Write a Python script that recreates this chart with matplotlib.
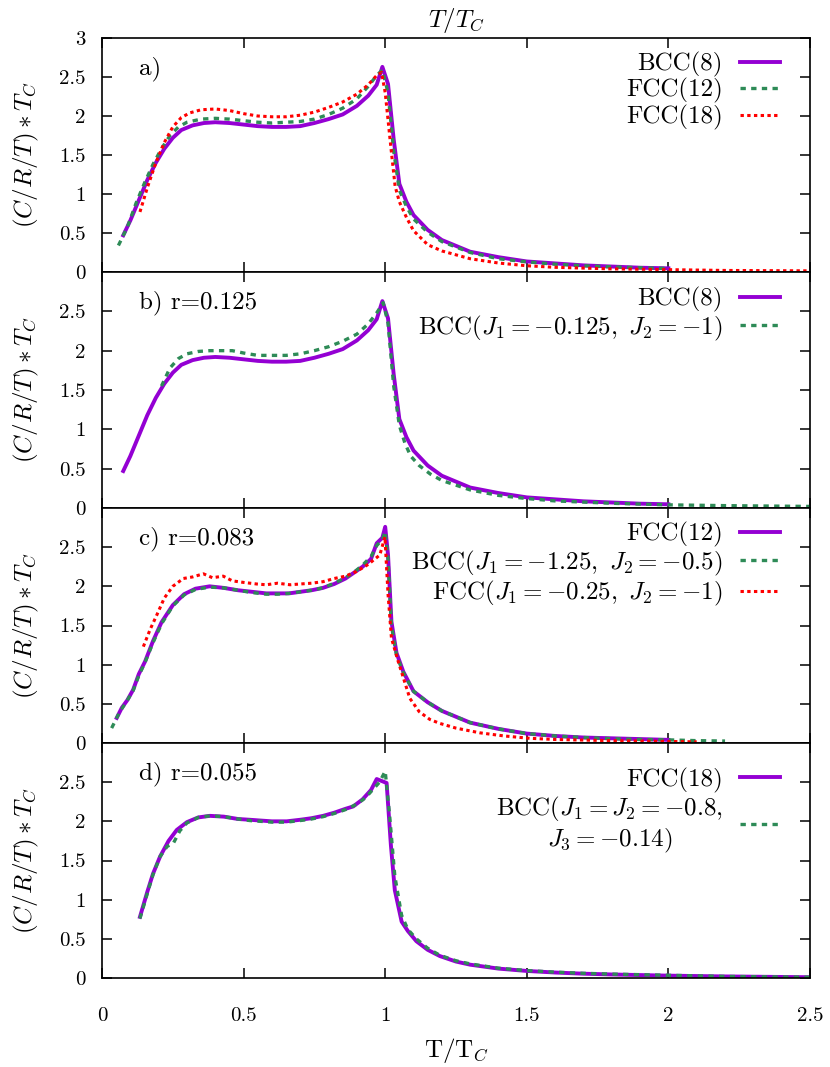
import matplotlib
matplotlib.use("Agg")
import matplotlib.pyplot as plt
from matplotlib.ticker import FixedLocator, FuncFormatter

plt.rcParams['font.family'] = 'serif'
plt.rcParams['font.serif'] = ['cmr10', 'DejaVu Serif']
plt.rcParams['mathtext.fontset'] = 'cm'
plt.rcParams['axes.unicode_minus'] = False
plt.rcParams['axes.formatter.use_mathtext'] = True

# ---------------- data ----------------
# panel a / b : BCC(8)
bcc8_x = [0.075, 0.10, 0.13, 0.16, 0.19, 0.22, 0.25, 0.28, 0.32, 0.36, 0.40, 0.45, 0.50, 0.55, 0.60, 0.65,
          0.70, 0.75, 0.80, 0.85, 0.90, 0.94, 0.97, 0.99, 1.01, 1.03, 1.05, 1.075, 1.10, 1.15, 1.20, 1.30,
          1.40, 1.50, 1.60, 1.70, 1.80, 1.90, 2.00]
bcc8_y = [0.47, 0.66, 0.92, 1.18, 1.40, 1.58, 1.72, 1.82, 1.88, 1.91, 1.92, 1.91, 1.89, 1.87, 1.86, 1.86,
          1.87, 1.91, 1.96, 2.02, 2.13, 2.26, 2.40, 2.63, 2.41, 1.70, 1.13, 0.90, 0.73, 0.54, 0.41, 0.26,
          0.19, 0.135, 0.11, 0.085, 0.07, 0.055, 0.047]

# panel a : FCC(12)
fcc12_x = [0.058, 0.09, 0.12, 0.15, 0.18, 0.21, 0.24, 0.27, 0.30, 0.35, 0.40, 0.45, 0.50, 0.55, 0.60, 0.65,
           0.70, 0.75, 0.80, 0.85, 0.90, 0.94, 0.97, 0.99, 1.01, 1.03, 1.05, 1.075, 1.10, 1.15, 1.20, 1.30,
           1.40, 1.50, 1.60, 1.70, 1.80, 1.90, 2.00]
fcc12_y = [0.34, 0.58, 0.88, 1.14, 1.38, 1.58, 1.75, 1.86, 1.92, 1.96, 1.97, 1.96, 1.94, 1.92, 1.91, 1.92,
           1.93, 1.96, 2.02, 2.10, 2.22, 2.38, 2.52, 2.59, 2.30, 1.55, 1.05, 0.84, 0.68, 0.51, 0.39, 0.25,
           0.17, 0.13, 0.10, 0.08, 0.065, 0.055, 0.045]

# panel a : FCC(18)
fcc18a_x = [0.134, 0.16, 0.19, 0.22, 0.25, 0.28, 0.31, 0.35, 0.40, 0.45, 0.50, 0.55, 0.60, 0.65, 0.70,
            0.75, 0.80, 0.85, 0.90, 0.94, 0.97, 0.987, 1.00, 1.02, 1.035, 1.05, 1.075, 1.10, 1.15, 1.20,
            1.30, 1.40, 1.50, 1.60, 1.80, 2.00, 2.20, 2.50]
fcc18a_y = [0.77, 1.08, 1.40, 1.66, 1.86, 1.98, 2.04, 2.08, 2.09, 2.07, 2.03, 2.00, 1.99, 1.99, 2.01,
            2.05, 2.11, 2.18, 2.28, 2.40, 2.52, 2.56, 2.30, 1.60, 1.10, 0.90, 0.70, 0.53, 0.35, 0.27,
            0.17, 0.115, 0.08, 0.06, 0.04, 0.03, 0.02, 0.015]

# panel b : BCC(J1=-0.125, J2=-1)
bccb_x = [0.21, 0.24, 0.27, 0.30, 0.34, 0.38, 0.42, 0.46, 0.50, 0.55, 0.60, 0.65, 0.70, 0.75, 0.80, 0.85,
          0.90, 0.94, 0.97, 0.993, 1.01, 1.03, 1.05, 1.07, 1.09, 1.12, 1.16, 1.20, 1.30, 1.40, 1.50, 1.60,
          1.80, 2.00, 2.20, 2.50]
bccb_y = [1.55, 1.78, 1.90, 1.96, 1.99, 2.00, 2.00, 2.00, 1.97, 1.94, 1.94, 1.94, 1.96, 2.00, 2.05, 2.12,
          2.21, 2.34, 2.48, 2.61, 2.35, 1.55, 1.05, 0.82, 0.66, 0.54, 0.43, 0.35, 0.23, 0.16, 0.12, 0.09,
          0.06, 0.04, 0.03, 0.02]

# panel c : FCC(12)
fcc12c_x = [0.052, 0.07, 0.09, 0.11, 0.13, 0.152, 0.18, 0.21, 0.25, 0.29, 0.33, 0.38, 0.43, 0.48, 0.53,
            0.58, 0.62, 0.66, 0.70, 0.74, 0.78, 0.82, 0.86, 0.90, 0.92, 0.95, 0.97, 0.99, 1.00, 1.01,
            1.022, 1.04, 1.064, 1.10, 1.15, 1.20, 1.30, 1.40, 1.50, 1.60, 1.70, 1.80, 1.90, 2.00]
fcc12c_y = [0.32, 0.45, 0.55, 0.68, 0.88, 1.04, 1.30, 1.54, 1.76, 1.90, 1.97, 2.00, 1.98, 1.95, 1.93,
            1.91, 1.91, 1.91, 1.93, 1.95, 1.98, 2.03, 2.10, 2.20, 2.25, 2.35, 2.55, 2.62, 2.76, 2.40,
            1.55, 1.15, 0.91, 0.66, 0.52, 0.41, 0.26, 0.18, 0.12, 0.09, 0.07, 0.06, 0.05, 0.04]

# panel c : BCC(J1=-1.25, J2=-0.5)
bccc_x = [0.034, 0.06, 0.09, 0.11, 0.13, 0.152, 0.18, 0.21, 0.25, 0.29, 0.33, 0.38, 0.43, 0.48, 0.53,
          0.58, 0.62, 0.66, 0.70, 0.74, 0.78, 0.82, 0.86, 0.90, 0.92, 0.95, 0.97, 0.99, 1.00, 1.01,
          1.022, 1.04, 1.064, 1.10, 1.15, 1.20, 1.30, 1.40, 1.50, 1.60, 1.70, 1.80, 1.90, 2.00, 2.10, 2.20]
bccc_y = [0.19, 0.38, 0.55, 0.67, 0.86, 1.03, 1.28, 1.52, 1.75, 1.89, 1.96, 1.99, 1.98, 1.95, 1.92,
          1.90, 1.90, 1.91, 1.93, 1.95, 1.98, 2.04, 2.11, 2.21, 2.27, 2.38, 2.52, 2.60, 2.70, 2.35,
          1.50, 1.12, 0.90, 0.66, 0.52, 0.41, 0.26, 0.18, 0.12, 0.09, 0.07, 0.055, 0.045, 0.04, 0.03, 0.025]

# panel c : FCC(J1=-0.25, J2=-1)
fccc_x = [0.146, 0.17, 0.193, 0.22, 0.25, 0.287, 0.32, 0.358, 0.39, 0.428, 0.46, 0.50, 0.546, 0.58, 0.62,
          0.664, 0.70, 0.74, 0.781, 0.82, 0.86, 0.899, 0.94, 0.981, 0.999, 1.01, 1.022, 1.046, 1.087, 1.12,
          1.158, 1.193, 1.25, 1.334, 1.42, 1.51, 1.60, 1.80, 2.00, 2.10]
fccc_y = [1.23, 1.45, 1.63, 1.85, 2.00, 2.10, 2.12, 2.16, 2.11, 2.13, 2.07, 2.05, 2.03, 2.02, 2.04,
          2.02, 2.03, 2.04, 2.06, 2.10, 2.13, 2.19, 2.28, 2.40, 2.63, 1.90, 1.34, 1.04, 0.57, 0.40,
          0.30, 0.25, 0.19, 0.13, 0.09, 0.06, 0.045, 0.03, 0.02, 0.015]

# panel d : FCC(18)
fcc18d_x = [0.134, 0.16, 0.18, 0.205, 0.235, 0.264, 0.30, 0.34, 0.381, 0.43, 0.48, 0.522, 0.56, 0.60,
            0.652, 0.70, 0.74, 0.781, 0.82, 0.86, 0.887, 0.92, 0.95, 0.97, 1.005, 1.02, 1.034, 1.058, 1.08,
            1.11, 1.15, 1.193, 1.25, 1.30, 1.40, 1.50, 1.60, 1.70, 1.80, 2.00, 2.20, 2.50]
fcc18d_y = [0.78, 1.10, 1.33, 1.55, 1.75, 1.89, 1.99, 2.05, 2.07, 2.06, 2.03, 2.02, 2.01, 2.00,
            2.00, 2.02, 2.04, 2.07, 2.11, 2.16, 2.19, 2.28, 2.40, 2.54, 2.49, 1.70, 1.12, 0.72, 0.60,
            0.47, 0.36, 0.28, 0.21, 0.17, 0.12, 0.09, 0.07, 0.055, 0.045, 0.03, 0.02, 0.01]

# panel d : BCC(J1=J2=-0.8, J3=-0.14)
bccd_x = [0.134, 0.16, 0.18, 0.205, 0.23, 0.252, 0.275, 0.30, 0.34, 0.381, 0.43, 0.48, 0.522, 0.56,
          0.60, 0.652, 0.70, 0.74, 0.781, 0.82, 0.86, 0.90, 0.93, 0.96, 0.98, 1.00, 1.015, 1.034, 1.058,
          1.08, 1.11, 1.15, 1.193, 1.25, 1.30, 1.40, 1.50, 1.60, 1.70, 1.80, 2.00, 2.20, 2.50]
bccd_y = [0.76, 1.08, 1.32, 1.55, 1.68, 1.72, 1.88, 1.98, 2.05, 2.07, 2.06, 2.03, 2.01, 2.00,
          1.99, 1.99, 2.01, 2.03, 2.06, 2.10, 2.15, 2.22, 2.30, 2.42, 2.50, 2.64, 2.10, 1.30, 0.80,
          0.62, 0.50, 0.38, 0.29, 0.22, 0.18, 0.125, 0.095, 0.075, 0.06, 0.05, 0.035, 0.02, 0.01]

xticks = [0, 0.5, 1, 1.5, 2, 2.5]
xtick_labels = ['0', '0.5', '1', '1.5', '2', '2.5']
yticks_top = [0, 0.5, 1, 1.5, 2, 2.5, 3]
yticks_other = [0, 0.5, 1, 1.5, 2, 2.5]

# ---------------- styles ----------------
PURPLE = '#9400D3'
GREEN = '#2E8B57'
RED = '#FF0000'
solid = dict(color=PURPLE, lw=2.8, ls='-')
dashed = dict(color=GREEN, lw=2.4, ls=(0, (1.6, 1.6)), dash_capstyle='butt')
dotted = dict(color=RED, lw=2.2, ls=(0, (1.1, 1.1)), dash_capstyle='butt')

panels = [
    ('a)', 0.94, [(bcc8_x, bcc8_y, solid, 'BCC(8)'),
                  (fcc12_x, fcc12_y, dashed, 'FCC(12)'),
                  (fcc18a_x, fcc18a_y, dotted, 'FCC(18)')]),
    ('b) r=0.125', 0.935, [(bcc8_x, bcc8_y, solid, 'BCC(8)'),
                           (bccb_x, bccb_y, dashed, r'BCC($J_1 = -0.125,\ J_2 = -1$)')]),
    ('c) r=0.083', 0.94, [(fcc12c_x, fcc12c_y, solid, 'FCC(12)'),
                          (bccc_x, bccc_y, dashed, r'BCC($J_1 = -1.25,\ J_2 = -0.5$)'),
                          (fccc_x, fccc_y, dotted, r'FCC($J_1 = -0.25,\ J_2 = -1$)')]),
    ('d) r=0.055', 0.895, [(fcc18d_x, fcc18d_y, solid, 'FCC(18)'),
                           (bccd_x, bccd_y, dashed, 'BCC($J_1 = J_2 = -0.8$,\n$J_3 = -0.14$)')]),
]

W, H = 830, 1067
fig = plt.figure(figsize=(W / 100, H / 100), dpi=100)
edges = [38, 272, 508, 743, 978]
left_px, right_px = 102, 810

fmt = FuncFormatter(lambda v, p: f'{v:g}')

for i, (label, leg_y, series) in enumerate(panels):
    top, bot = edges[i], edges[i + 1]
    ax = fig.add_axes([left_px / W, 1 - bot / H, (right_px - left_px) / W, (bot - top) / H])
    for xs, ys, st, lab in series:
        ax.plot(xs, ys, label=lab, **st)
    ax.set_xlim(0, 2.5)
    ax.set_ylim(0, 3)
    ax.xaxis.set_major_locator(FixedLocator(xticks))
    ax.yaxis.set_major_locator(FixedLocator(yticks_top if i == 0 else yticks_other))
    ax.yaxis.set_major_formatter(fmt)
    ax.tick_params(direction='in', length=7, width=1.1, top=True, right=True,
                   labelsize=15, pad=12)
    ax.tick_params(axis='x', pad=21)
    for s in ax.spines.values():
        s.set_linewidth(1.2)
    if i == 3:
        ax.set_xticklabels(xtick_labels)
        ax.set_xlabel(r'T/T$_C$', fontsize=18, labelpad=8)
    else:
        ax.tick_params(labelbottom=False)
    if i == 0:
        ax.set_title(r'$T/T_C$', fontsize=18, pad=8)
    ax.set_ylabel(r'$(C/R/T)\ast T_C$', fontsize=18, labelpad=13)
    ax.text(0.052, 0.87, label, transform=ax.transAxes, fontsize=18, ha='left', va='center')
    leg = ax.legend(loc='upper right', bbox_to_anchor=(0.958, leg_y), frameon=False,
                    markerfirst=False, fontsize=18, handlelength=1.6, handletextpad=0.7,
                    labelspacing=0.05, borderpad=0, borderaxespad=0)
    for t in leg.get_texts():
        t.set_multialignment('center')

fig.savefig('out.png', dpi=100)
